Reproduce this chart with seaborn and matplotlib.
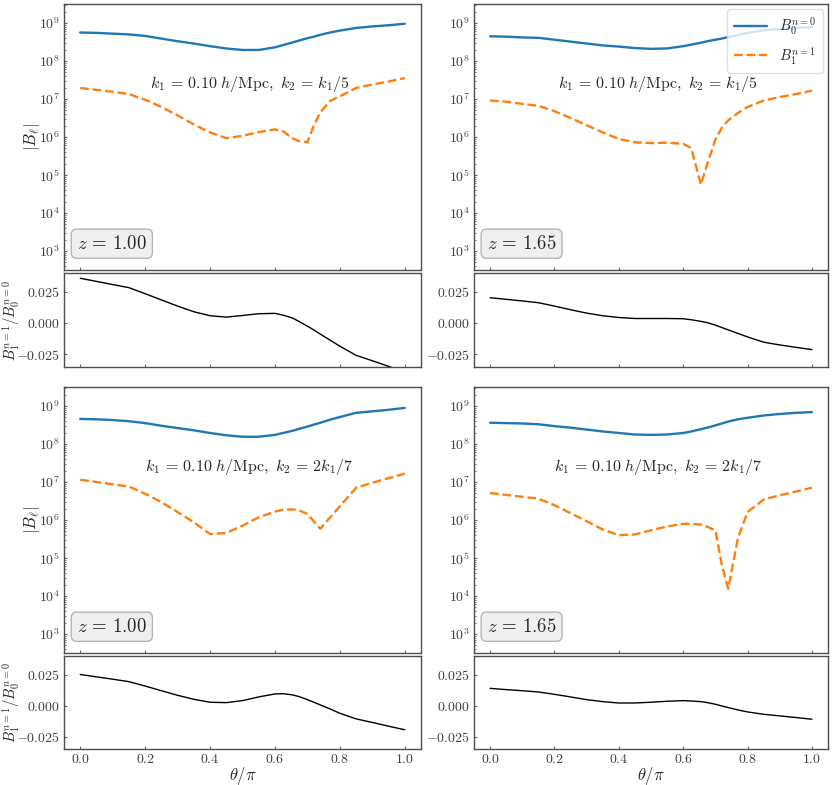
import numpy as np
import matplotlib
matplotlib.use("Agg")
import matplotlib.pyplot as plt
import seaborn as sns

# theta / pi grid
theta = [0.0, 0.05, 0.10, 0.15, 0.20, 0.25, 0.30, 0.35, 0.40, 0.45, 0.50, 0.55, 0.60,
         0.625, 0.655, 0.675, 0.70, 0.72, 0.74, 0.77, 0.80, 0.85, 0.90, 0.95, 1.0]

# log10 |B_l|, k2 = k1/5
tl_b0_log = [8.75, 8.74, 8.72, 8.70, 8.66, 8.59, 8.52, 8.46, 8.39, 8.33, 8.29, 8.29, 8.36,
             8.42, 8.49, 8.54, 8.60, 8.64, 8.69, 8.75, 8.80, 8.87, 8.91, 8.94, 8.98]
tl_b1_log = [7.29, 7.24, 7.19, 7.13, 6.98, 6.79, 6.57, 6.33, 6.12, 5.97, 6.03, 6.13, 6.20,
             6.15, 5.96, 5.89, 5.86, 6.31, 6.65, 6.95, 7.07, 7.29, 7.38, 7.46, 7.55]
tl_ratio = [0.0358, 0.0333, 0.0308, 0.0283, 0.0235, 0.0185, 0.0136, 0.0091, 0.0059, 0.0048,
            0.0061, 0.0075, 0.0078, 0.0064, 0.0040, 0.0012, -0.0024, -0.0055, -0.0088,
            -0.0136, -0.0184, -0.0257, -0.0300, -0.0345, -0.0390]

tr_b0_log = [8.65, 8.64, 8.62, 8.61, 8.56, 8.51, 8.46, 8.41, 8.38, 8.34, 8.32, 8.33, 8.39,
             8.43, 8.48, 8.52, 8.56, 8.59, 8.63, 8.68, 8.74, 8.81, 8.84, 8.87, 8.89]
tr_b1_log = [6.96, 6.93, 6.87, 6.82, 6.68, 6.50, 6.31, 6.12, 5.95, 5.86, 5.84, 5.85, 5.82,
             5.71, 4.75, 5.29, 5.93, 6.24, 6.44, 6.63, 6.79, 6.96, 7.05, 7.13, 7.22]
tr_ratio = [0.0203, 0.0190, 0.0177, 0.0163, 0.0136, 0.0107, 0.0080, 0.0059, 0.0045, 0.0037,
            0.0037, 0.0037, 0.0035, 0.0027, 0.0014, 0.0004, -0.0016, -0.0035, -0.0054,
            -0.0082, -0.0110, -0.0152, -0.0174, -0.0193, -0.0211]

# k2 = 2 k1 / 7
bl_b0_log = [8.66, 8.65, 8.63, 8.60, 8.55, 8.48, 8.42, 8.36, 8.29, 8.23, 8.19, 8.19, 8.24,
             8.29, 8.35, 8.40, 8.46, 8.51, 8.56, 8.64, 8.71, 8.82, 8.86, 8.90, 8.95]
bl_b1_log = [7.06, 7.00, 6.94, 6.88, 6.69, 6.47, 6.21, 5.94, 5.63, 5.66, 5.85, 6.07, 6.22,
             6.27, 6.28, 6.25, 6.16, 5.96, 5.77, 6.07, 6.36, 6.85, 6.98, 7.10, 7.22]
bl_ratio = [0.0251, 0.0232, 0.0213, 0.0193, 0.0158, 0.0120, 0.0083, 0.0051, 0.0027, 0.0024,
            0.0040, 0.0070, 0.0094, 0.0096, 0.0086, 0.0072, 0.0048, 0.0027, 0.0005,
            -0.0027, -0.0062, -0.0107, -0.0136, -0.0166, -0.0195]

br_b0_log = [8.56, 8.55, 8.54, 8.52, 8.47, 8.43, 8.38, 8.33, 8.29, 8.25, 8.24, 8.25, 8.29,
             8.33, 8.39, 8.43, 8.49, 8.54, 8.59, 8.65, 8.69, 8.75, 8.79, 8.82, 8.84]
br_b1_log = [6.71, 6.66, 6.61, 6.56, 6.39, 6.18, 5.97, 5.75, 5.60, 5.62, 5.73, 5.83, 5.90,
             5.90, 5.88, 5.82, 5.73, 4.82, 4.19, 5.52, 6.21, 6.54, 6.65, 6.75, 6.85]
br_ratio = [0.0139, 0.0129, 0.0120, 0.0110, 0.0091, 0.0070, 0.0048, 0.0032, 0.0021, 0.0021,
            0.0027, 0.0035, 0.0040, 0.0037, 0.0032, 0.0024, 0.0011, -0.0003, -0.0016,
            -0.0035, -0.0051, -0.0070, -0.0083, -0.0096, -0.0110]

z_labels = ["1.00", "1.65"]
k_labels = [r"$k_1\,=\,0.10\ h/\mathrm{Mpc},\ k_2\,=\,k_1/5$",
            r"$k_1\,=\,0.10\ h/\mathrm{Mpc},\ k_2\,=\,2k_1/7$"]

sns.set_style("white")
plt.rcParams.update({
    "font.family": "serif",
    "font.serif": ["cmr10", "DejaVu Serif"],
    "mathtext.fontset": "cm",
    "axes.formatter.use_mathtext": True,
    "axes.edgecolor": ".3",
    "axes.linewidth": 1.0,
    "text.color": ".15",
    "xtick.color": ".4",
    "ytick.color": ".4",
    "xtick.labelcolor": ".25",
    "ytick.labelcolor": ".25",
    "xtick.labelsize": 10,
    "ytick.labelsize": 10,
})

fig = plt.figure(figsize=(8.35, 7.85), dpi=100)
W, H = 835.0, 785.0
cols = [(64, 421), (474, 828)]
rows = [((4, 270), (273, 367)), ((387, 653), (656, 749))]

panels = [
    [(tl_b0_log, tl_b1_log, tl_ratio), (tr_b0_log, tr_b1_log, tr_ratio)],
    [(bl_b0_log, bl_b1_log, bl_ratio), (br_b0_log, br_b1_log, br_ratio)],
]


def add_ax(xr, yr):
    return fig.add_axes([xr[0] / W, 1 - yr[1] / H, (xr[1] - xr[0]) / W, (yr[1] - yr[0]) / H])


def style_ticks(ax):
    ax.tick_params(axis="both", which="both", direction="in", left=True, bottom=True, pad=3)
    ax.tick_params(which="major", length=2.5, width=0.8)
    ax.tick_params(which="minor", length=1.5, width=0.6)


for r in range(2):
    for c in range(2):
        b0, b1, ratio = panels[r][c]
        ax = add_ax(cols[c], rows[r][0])
        axr = add_ax(cols[c], rows[r][1])

        sns.lineplot(x=theta, y=np.power(10.0, b0), ax=ax, color="#1f77b4", lw=1.7,
                     label=r"$B_0^{n=0}$")
        sns.lineplot(x=theta, y=np.power(10.0, b1), ax=ax, color="#ff7f0e", lw=1.7,
                     linestyle="--", label=r"$B_1^{n=1}$")
        ax.set_yscale("log")
        ax.set_ylim(10 ** 2.5, 10 ** 9.5)
        ax.set_xlim(-0.05, 1.05)
        style_ticks(ax)
        ax.tick_params(axis="x", labelbottom=False)

        if r == 0 and c == 1:
            leg = ax.legend(loc="upper right", fontsize=10.5, handlelength=2.3,
                            borderaxespad=0.35, borderpad=0.45, labelspacing=0.5,
                            frameon=True)
            leg.get_frame().set_edgecolor("0.85")
        else:
            ax.get_legend().remove()

        ax.text(0.52, 0.70, k_labels[r], transform=ax.transAxes, ha="center",
                va="center", fontsize=11.5)
        ax.text(0.036, 0.08, r"$z\,=\,%s$" % z_labels[c], transform=ax.transAxes,
                ha="left", va="baseline", fontsize=13.5,
                bbox=dict(boxstyle="round,pad=0.3", fc="#efefef", ec="#b5b5b5"))

        sns.lineplot(x=theta, y=ratio, ax=axr, color="black", lw=1.0)
        axr.set_xlim(-0.05, 1.05)
        axr.set_ylim(-0.035, 0.04)
        axr.set_yticks([-0.025, 0.0, 0.025])
        style_ticks(axr)
        axr.set_xticks([0.0, 0.2, 0.4, 0.6, 0.8, 1.0])
        if r == 1:
            axr.set_xlabel(r"$\theta/\pi$", fontsize=12, labelpad=-1)
        else:
            axr.tick_params(axis="x", labelbottom=False)

        if c == 0:
            ax.set_ylabel(r"$|B_\ell|$", fontsize=12)
            ax.yaxis.set_label_coords(-0.062, 0.5)
            axr.set_ylabel(r"$B_1^{n=1}/B_0^{n=0}$", fontsize=10.5)
            axr.yaxis.set_label_coords(-0.116, 0.5)

fig.savefig("out.png", dpi=100)
